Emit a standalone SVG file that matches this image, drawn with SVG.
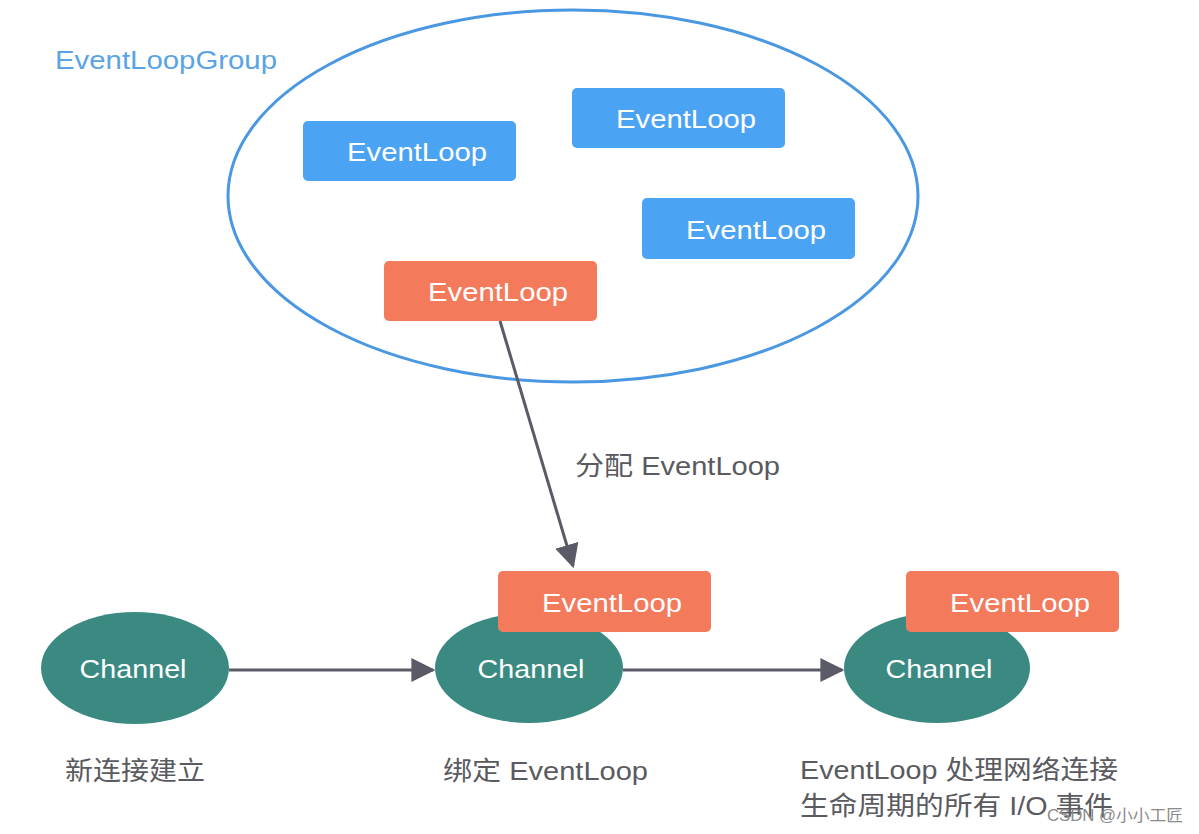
<svg xmlns="http://www.w3.org/2000/svg" width="1199" height="834" viewBox="0 0 1199 834">
<defs>
<style>
.lbl{font-family:"Liberation Sans","Noto Sans CJK SC",sans-serif;}
.box-blue{fill:#4ba3f4;}
.box-red{fill:#f47a5c;}
.boxtxt{fill:#ffffff;font-size:26px;text-anchor:middle;}
.ch{fill:#3a8a82;}
.chtxt{fill:#ffffff;font-size:26px;text-anchor:middle;}
.cap{fill:#5a5a5f;font-size:26px;}
.conn{stroke:#5b5b68;stroke-width:3;fill:none;}
</style>
<marker id="arrh" viewBox="0 0 10 10" refX="9" refY="5" markerWidth="8" markerHeight="8" orient="auto">
<path d="M0,0 L10,5 L0,10 z" fill="#5b5b68"/>
</marker>
</defs>
<rect width="1199" height="834" fill="#ffffff"/>

<g id="group">
<ellipse cx="573" cy="196" rx="345" ry="186" fill="none" stroke="#4a97e2" stroke-width="3"/>
<text class="lbl" x="55" y="69" font-size="26" fill="#5aa4e6" textLength="222" lengthAdjust="spacingAndGlyphs">EventLoopGroup</text>
</g>

<g id="el1"><rect class="box-blue" x="303" y="121" width="213" height="60" rx="5"/><text class="lbl boxtxt" x="417" y="161" textLength="140" lengthAdjust="spacingAndGlyphs">EventLoop</text></g>
<g id="el2"><rect class="box-blue" x="572" y="88" width="213" height="60" rx="5"/><text class="lbl boxtxt" x="686" y="128" textLength="140" lengthAdjust="spacingAndGlyphs">EventLoop</text></g>
<g id="el3"><rect class="box-blue" x="642" y="198" width="213" height="61" rx="5"/><text class="lbl boxtxt" x="756" y="239" textLength="140" lengthAdjust="spacingAndGlyphs">EventLoop</text></g>
<g id="el4"><rect class="box-red" x="384" y="261" width="213" height="60" rx="5"/><text class="lbl boxtxt" x="498" y="301" textLength="140" lengthAdjust="spacingAndGlyphs">EventLoop</text></g>

<g id="connectors">
<line class="conn" x1="500" y1="321" x2="573" y2="566" marker-end="url(#arrh)"/>
<line class="conn" x1="229" y1="670" x2="433" y2="670" marker-end="url(#arrh)"/>
<line class="conn" x1="623" y1="670" x2="842" y2="670" marker-end="url(#arrh)"/>
<text class="lbl cap" x="575" y="475" textLength="205" lengthAdjust="spacingAndGlyphs">分配 EventLoop</text>
</g>

<g id="ch1"><ellipse class="ch" cx="135" cy="668" rx="94" ry="56"/><text class="lbl chtxt" x="133" y="678" textLength="107" lengthAdjust="spacingAndGlyphs">Channel</text>
<text class="lbl cap" x="65" y="780" font-size="28" textLength="140" lengthAdjust="spacingAndGlyphs">新连接建立</text></g>

<g id="ch2"><ellipse class="ch" cx="529" cy="668" rx="94" ry="55"/><text class="lbl chtxt" x="531" y="678" textLength="107" lengthAdjust="spacingAndGlyphs">Channel</text>
<text class="lbl cap" x="443" y="780" textLength="205" lengthAdjust="spacingAndGlyphs">绑定 EventLoop</text></g>
<g id="el5"><rect class="box-red" x="498" y="571" width="213" height="61" rx="5"/><text class="lbl boxtxt" x="612" y="612" textLength="140" lengthAdjust="spacingAndGlyphs">EventLoop</text></g>

<g id="ch3"><ellipse class="ch" cx="937" cy="668" rx="93" ry="55"/><text class="lbl chtxt" x="939" y="678" textLength="107" lengthAdjust="spacingAndGlyphs">Channel</text>
<text class="lbl cap" x="800" y="779" textLength="318" lengthAdjust="spacingAndGlyphs">EventLoop 处理网络连接</text>
<text class="lbl cap" x="800" y="815" textLength="313" lengthAdjust="spacingAndGlyphs">生命周期的所有 I/O 事件</text></g>
<g id="el6"><rect class="box-red" x="906" y="571" width="213" height="61" rx="5"/><text class="lbl boxtxt" x="1020" y="612" textLength="140" lengthAdjust="spacingAndGlyphs">EventLoop</text></g>

<text class="lbl" x="1047" y="821" font-size="16" fill="#8a8a8a" textLength="136" lengthAdjust="spacingAndGlyphs">CSDN @小小工匠</text>
</svg>
